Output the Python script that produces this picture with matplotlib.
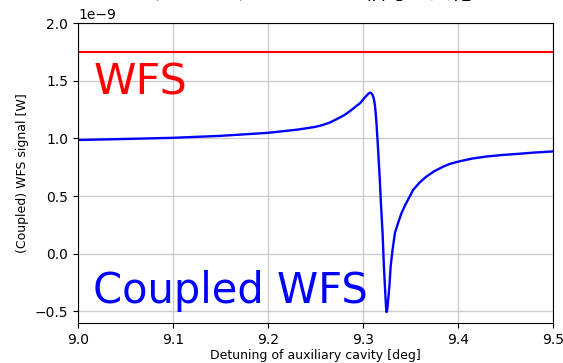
import matplotlib
matplotlib.use("Agg")
import matplotlib.pyplot as plt
import numpy as np

# Detuning of the auxiliary cavity [deg] and coupled WFS signal [nW]
detuning = [9.000, 9.050, 9.100, 9.150, 9.200, 9.230, 9.240, 9.250, 9.258,
            9.265, 9.272, 9.280, 9.285, 9.290, 9.293, 9.297, 9.300, 9.302,
            9.304, 9.306, 9.3075, 9.3085, 9.310, 9.3115, 9.3126, 9.3135,
            9.3144, 9.3161, 9.3177, 9.3189, 9.3207, 9.3221, 9.3239, 9.3244,
            9.3249, 9.3254, 9.3258, 9.3266, 9.328, 9.3292, 9.331, 9.3337,
            9.336, 9.338, 9.3407, 9.345, 9.3495, 9.353, 9.360, 9.367, 9.375,
            9.385, 9.392, 9.401, 9.415, 9.430, 9.448, 9.465, 9.480, 9.500]
coupled_nw = [0.986, 0.995, 1.005, 1.022, 1.048, 1.075, 1.087, 1.100, 1.117,
              1.137, 1.165, 1.200, 1.228, 1.260, 1.280, 1.305, 1.334, 1.355,
              1.372, 1.390, 1.396, 1.394, 1.380, 1.345, 1.290, 1.215,
              1.118, 0.887, 0.656, 0.450, 0.180, -0.110, -0.396, -0.465,
              -0.505, -0.495, -0.470, -0.400, -0.270, -0.110, 0.020, 0.180,
              0.240, 0.290, 0.354, 0.430, 0.500, 0.555, 0.620, 0.670, 0.715,
              0.757, 0.780, 0.800, 0.825, 0.843, 0.857, 0.867, 0.877, 0.887]
wfs_level_nw = 1.75

title = "カップリングによるWFS信号の変化"

plt.rcParams['font.family'] = ['DejaVu Sans']

fig = plt.figure(figsize=(5.63, 3.63), dpi=100)
ax = fig.add_axes([0.1385, 0.1102, 0.8435, 0.8264])

ax.axhline(wfs_level_nw * 1e-9, color='red', lw=1.5)
ax.plot(detuning, np.array(coupled_nw) * 1e-9, color='blue', lw=1.7)

ax.set_xlim(9.0, 9.5)
ax.set_ylim(-0.6e-9, 2.0e-9)
ax.set_xticks([9.0, 9.1, 9.2, 9.3, 9.4, 9.5])
ax.set_yticks(np.array([-0.5, 0.0, 0.5, 1.0, 1.5, 2.0]) * 1e-9)
ax.grid(True, color='#cccccc', lw=1.0)
ax.set_axisbelow(True)

ax.set_xlabel("Detuning of auxiliary cavity [deg]", fontsize=9, labelpad=2)
ax.set_ylabel("(Coupled) WFS signal [W]", fontsize=9)

ax.text(9.016, 1.383e-9, "WFS", color='red', fontsize=31, va='baseline', ha='left')
ax.text(9.016, -0.425e-9, "Coupled WFS", color='blue', fontsize=30,
        va='baseline', ha='left')

fig.text(0.535, 1.004, title, fontsize=15.5, ha='center', va='baseline',
         family=['Noto Sans CJK JP', 'DejaVu Sans'])

fig.savefig("out.png", dpi=100)
